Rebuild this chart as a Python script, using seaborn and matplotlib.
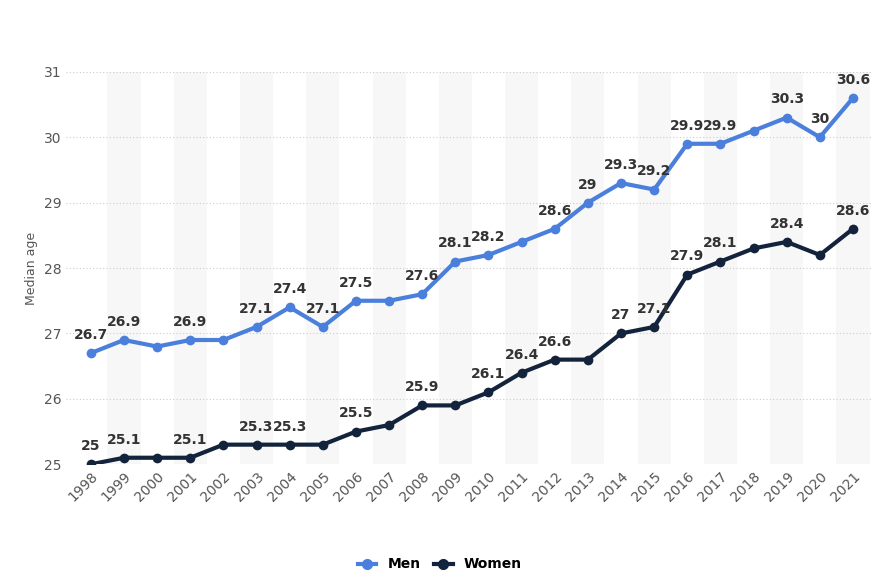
import matplotlib
matplotlib.use("Agg")
import matplotlib.pyplot as plt
import seaborn as sns
import pandas as pd
from matplotlib.lines import Line2D

years = list(range(1998, 2022))
men = [26.7, 26.9, 26.8, 26.9, 26.9, 27.1, 27.4, 27.1, 27.5, 27.5, 27.6, 28.1,
       28.2, 28.4, 28.6, 29.0, 29.3, 29.2, 29.9, 29.9, 30.1, 30.3, 30.0, 30.6]
women = [25.0, 25.1, 25.1, 25.1, 25.3, 25.3, 25.3, 25.3, 25.5, 25.6, 25.9, 25.9,
         26.1, 26.4, 26.6, 26.6, 27.0, 27.1, 27.9, 28.1, 28.3, 28.4, 28.2, 28.6]
men_labeled = [1998, 1999, 2001, 2003, 2004, 2005, 2006, 2008, 2009, 2010, 2012,
               2013, 2014, 2015, 2016, 2017, 2019, 2020, 2021]
women_labeled = [1998, 1999, 2001, 2003, 2004, 2006, 2008, 2010, 2011, 2012,
                 2014, 2015, 2016, 2017, 2019, 2021]

df = pd.DataFrame({"x": list(range(len(years))) * 2, "age": men + women,
                   "series": ["Men"] * len(years) + ["Women"] * len(years)})

fig = plt.figure(figsize=(8.8, 5.84), dpi=100)
ax = fig.add_axes([0.075, 0.205, 0.915, 0.672])
for i in range(1, len(years), 2):
    ax.axvspan(i - 0.5, i + 0.5, color="#f7f7f7", zorder=0, lw=0)
ax.grid(axis="y", color="#cccccc", linestyle=(0, (1, 2)), lw=0.8)
ax.set_axisbelow(True)

pal = {"Men": "#4a7fdc", "Women": "#14233c"}
sns.lineplot(data=df, x="x", y="age", hue="series", palette=pal, marker="o",
             markersize=7, markeredgewidth=0, lw=3, ax=ax, legend=False, zorder=3)

for yrs, vals in ((men_labeled, men), (women_labeled, women)):
    for y in yrs:
        i = years.index(y)
        v = vals[i]
        ax.text(i, v + 0.17, f"{v:g}", ha="center", va="bottom", fontsize=10,
                color="#333333", fontweight="semibold", zorder=4)

ax.set_xlim(-0.75, len(years) - 0.45)
ax.set_ylim(25, 31)
ax.set_yticks(range(25, 32))
ax.set_xticks(range(len(years)))
ax.set_xticklabels([str(y) for y in years], rotation=45, ha="right",
                   rotation_mode="anchor", fontsize=10, color="#555555")
ax.tick_params(axis="y", labelsize=10, labelcolor="#555555", length=0)
ax.tick_params(axis="x", length=0)
ax.set_xlabel("")
ax.set_ylabel("Median age", fontsize=9, color="#555555")
for s in ax.spines.values():
    s.set_visible(False)

handles = [Line2D([], [], color=pal[k], lw=3, marker="o", markersize=7) for k in pal]
fig.legend(handles, list(pal), loc="lower center", bbox_to_anchor=(0.5, 0.0),
           ncol=2, frameon=False, handlelength=1.3, columnspacing=1.0,
           prop={"weight": "bold", "size": 10})
fig.savefig("out.png", dpi=100, facecolor="white")
